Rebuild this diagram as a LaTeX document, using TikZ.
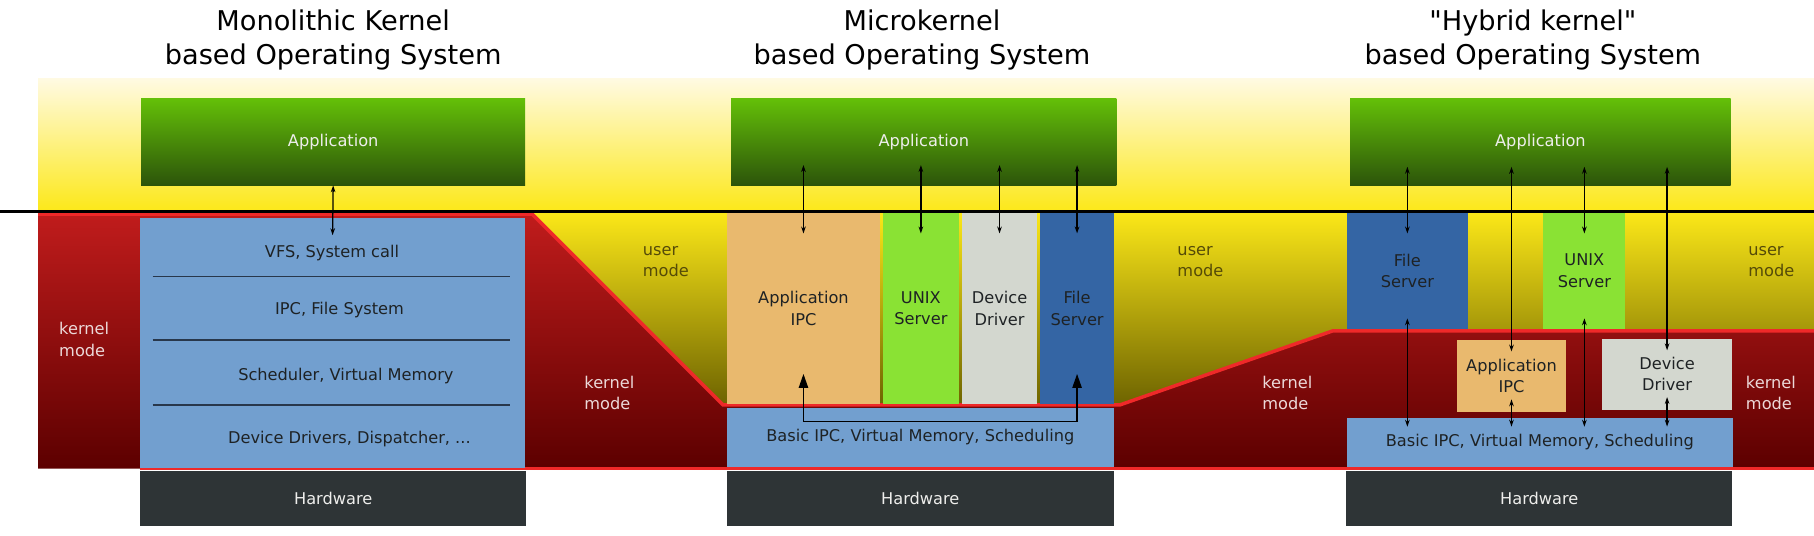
\documentclass[tikz,border=0pt]{standalone}
\usepackage{fontspec}
\setmainfont{DejaVu Sans}[Ligatures=TeXOff]
\usetikzlibrary{arrows.meta}

\definecolor{ycream}{RGB}{255,250,226}
\definecolor{ybutter}{RGB}{252,232,24}
\definecolor{yolive}{RGB}{108,98,0}
\definecolor{kred1}{RGB}{192,28,28}
\definecolor{kred2}{RGB}{92,0,0}
\definecolor{kline}{RGB}{239,41,41}
\definecolor{appg1}{RGB}{100,192,8}
\definecolor{appg2}{RGB}{44,84,10}
\definecolor{skyblue}{RGB}{114,159,207}
\definecolor{darkblue}{RGB}{52,101,164}
\definecolor{chameleon}{RGB}{138,226,52}
\definecolor{alu}{RGB}{211,215,207}
\definecolor{choco}{RGB}{233,185,110}
\definecolor{hwgray}{RGB}{46,52,54}
\definecolor{txtdark}{RGB}{30,34,36}
\definecolor{txtlight}{RGB}{238,238,236}
\definecolor{ktxt}{RGB}{236,216,216}
\definecolor{usertxt}{RGB}{85,75,8}
\definecolor{sepline}{RGB}{40,55,75}

\begin{document}
\begin{tikzpicture}[
		x=1pt, y=-1pt,
		every node/.style={inner sep=0pt, text=txtdark, align=center, font=\fontsize{14}{18.5}\selectfont},
		title/.style={font=\fontsize{23.5}{30}\selectfont, text=black, anchor=base},
		app/.style={top color=appg1, bottom color=appg2, text=txtlight, minimum width=332pt, minimum height=75pt},
		hw/.style={fill=hwgray, text=txtlight, minimum width=334pt, minimum height=48pt},
		corebox/.style={fill=skyblue},
		ipcbox/.style={fill=choco},
		unixbox/.style={fill=chameleon},
		devbox/.style={fill=alu},
		fsbox/.style={fill=darkblue},
		umode/.style={text=usertxt, align=left, anchor=base west},
		kmode/.style={text=ktxt, align=left, anchor=base west},
		sep/.style={sepline, line width=1.5pt},
		dbl/.style={{Stealth[length=6pt,width=4pt]}-{Stealth[length=6pt,width=4pt]}, line width=1.1pt},
		ipcloop/.style={{Triangle[length=12pt,width=8pt]}-{Triangle[length=12pt,width=8pt]}, line width=1.3pt}
	]
  \useasboundingbox (0,0) rectangle (1568,463);

  \shade[top color=ycream, bottom color=ybutter] (33,68) rectangle (1568,183);
  \shade[top color=ybutter, bottom color=yolive] (33,183) rectangle (1568,352);
  \shade[top color=kred1, bottom color=kred2] (33,185) -- (460,185) -- (625,350) -- (968,350) -- (1152,286) -- (1568,286) -- (1568,405) -- (33,405) -- cycle;
  \draw[kline, line width=3pt] (33,185) -- (460,185) -- (625,350) -- (968,350) -- (1152,286) -- (1568,286);
  \draw[kline, line width=3pt] (121,405) -- (1568,405);

  \node (mono_title) [title] at (288, 56) {Monolithic Kernel\\based Operating System};
  \node (mono_app) [app] at (288, 122.5) {Application};
  \node (mono_core) [corebox, minimum width=333pt, minimum height=216pt] at (287.5, 296.5) {};
  \node (mono_vfs) [anchor=base] at (287, 223) {VFS, System call};
  \node (mono_fsys) [anchor=base] at (293.5, 272) {IPC, File System};
  \node (mono_sched) [anchor=base] at (299, 328.5) {Scheduler, Virtual Memory};
  \node (mono_drv) [anchor=base] at (302, 383) {Device Drivers, Dispatcher, ...};
  \draw[sep] (132,239) -- (441,239);
  \draw[sep] (132,294) -- (441,294);
  \draw[sep] (132,350) -- (441,350);
  \node (mono_hw) [hw] at (288, 431) {Hardware};
  \draw[dbl] (mono_app.south) -- ([yshift=-15pt]mono_core.north);

  \node (mic_title) [title] at (797, 56) {Microkernel\\based Operating System};
  \node (mic_app) [app, minimum width=333pt] at (798.5, 122.5) {Application};
  \node (mic_ipc) [ipcbox, minimum width=132pt, minimum height=165pt] at (694.5, 266.5) {Application\\IPC};
  \node (mic_unix) [unixbox, minimum width=66pt, minimum height=165pt] at (796, 266.5) {UNIX\\Server};
  \node (mic_dev) [devbox, minimum width=65pt, minimum height=165pt] at (864, 266.5) {Device\\Driver};
  \node (mic_fs) [fsbox, minimum width=64pt, minimum height=165pt] at (931, 266.5) {File\\Server};
  \node (mic_core) [corebox, minimum width=335pt, minimum height=51pt] at (795.5, 378) {Basic IPC, Virtual Memory, Scheduling};
  \node (mic_hw) [hw] at (795.5, 431) {Hardware};
  \foreach \b in {mic_ipc, mic_unix, mic_dev, mic_fs}
    \draw[dbl] ([yshift=17.5pt]\b.north |- mic_app.south) -- ([yshift=-18pt]\b.north);
  \draw[ipcloop] ([yshift=26pt]mic_ipc.south) |- ([yshift=-12pt]mic_core.north) -| ([yshift=26pt]mic_fs.south);

  \node (hyb_title) [title] at (1325, 56) {"Hybrid kernel"\\based Operating System};
  \node (hyb_app) [app, minimum width=329pt] at (1331.5, 122.5) {Application};
  \node (hyb_fs) [fsbox, minimum width=105pt, minimum height=100pt] at (1216.5, 234) {File\\Server};
  \node (hyb_unix) [unixbox, minimum width=71pt, minimum height=100pt] at (1369.5, 234) {UNIX\\Server};
  \node (hyb_ipc) [ipcbox, minimum width=95pt, minimum height=62pt] at (1306.5, 325) {Application\\IPC};
  \node (hyb_dev) [devbox, minimum width=113pt, minimum height=61pt] at (1441, 323.5) {Device\\Driver};
  \node (hyb_core) [corebox, minimum width=334pt, minimum height=43pt] at (1331, 382.5) {Basic IPC, Virtual Memory, Scheduling};
  \node (hyb_hw) [hw] at (1330.5, 431) {Hardware};
  \foreach \b in {hyb_fs, hyb_unix} {
    \draw[dbl] ([yshift=16pt]\b.north |- hyb_app.south) -- ([yshift=-18pt]\b.north);
    \draw[dbl] ([yshift=9pt]\b.south) -- ([yshift=-8pt]\b.south |- hyb_core.north);
  }
  \foreach \b in {hyb_ipc, hyb_dev} {
    \draw[dbl] ([yshift=16pt]\b.north |- hyb_app.south) -- ([yshift=-10pt]\b.north);
    \draw[dbl] ([yshift=11pt]\b.south) -- ([yshift=-8pt]\b.south |- hyb_core.north);
  }

  \node (mono_kmode) [kmode] at (51, 308) {kernel\\mode};
  \node (mono_umode) [umode] at (555.5, 239) {user\\mode};
  \node (mono_kmode_r) [kmode] at (505, 354) {kernel\\mode};
  \node (mic_umode) [umode] at (1017.6, 239) {user\\mode};
  \node (hyb_kmode) [kmode] at (1091, 354) {kernel\\mode};
  \node (hyb_umode) [umode] at (1511, 239) {user\\mode};
  \node (hyb_kmode_r) [kmode] at (1509, 354) {kernel\\mode};

  \draw[line width=2.5pt] (0,183) -- (1568,183);
\end{tikzpicture}
\end{document}
